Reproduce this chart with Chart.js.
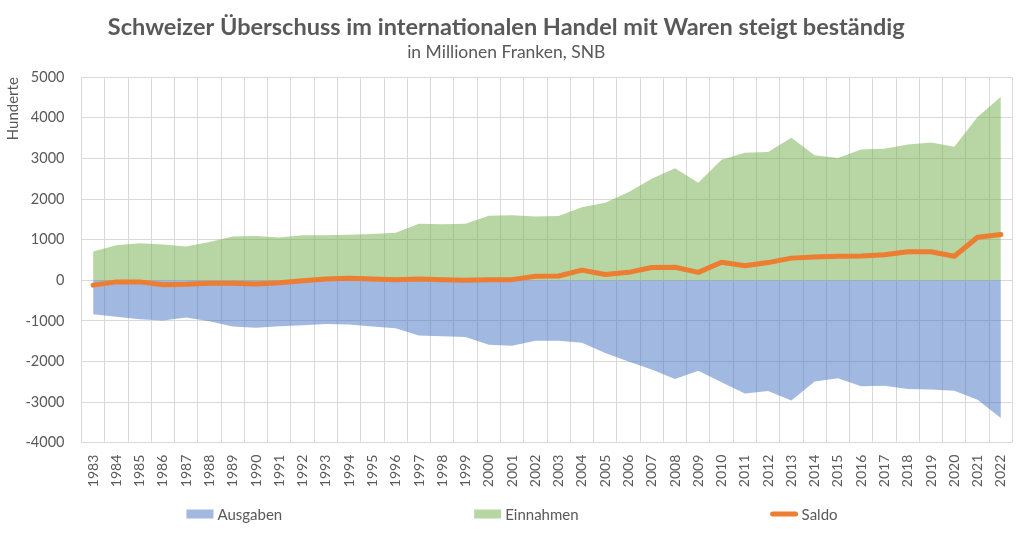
<!DOCTYPE html>
<html>
<head>
<meta charset="utf-8">
<script src="https://cdn.jsdelivr.net/npm/chart.js@4"></script>
<style>
  html, body { margin: 0; padding: 0; background: #ffffff; }
  #wrap { width: 1024px; height: 536px; }
</style>
</head>
<body>
<div id="wrap"><canvas id="c" width="1024" height="536"></canvas></div>
<script>
const years = ['1983','1984','1985','1986','1987','1988','1989','1990','1991','1992','1993','1994','1995','1996','1997','1998','1999','2000','2001','2002','2003','2004','2005','2006','2007','2008','2009','2010','2011','2012','2013','2014','2015','2016','2017','2018','2019','2020','2021','2022'];
const ausgaben = [-840,-900,-960,-990,-920,-1010,-1140,-1170,-1130,-1110,-1080,-1090,-1140,-1180,-1360,-1380,-1400,-1590,-1610,-1490,-1490,-1540,-1790,-2000,-2200,-2430,-2230,-2510,-2790,-2730,-2960,-2490,-2410,-2610,-2600,-2680,-2690,-2720,-2940,-3390];
const einnahmen = [710,860,910,880,830,940,1080,1090,1050,1110,1110,1120,1140,1170,1390,1380,1390,1590,1600,1570,1580,1800,1910,2170,2500,2760,2400,2970,3140,3160,3510,3080,3010,3220,3240,3340,3390,3290,4020,4520];
const saldo = [-120,-40,-40,-110,-100,-75,-75,-90,-60,-10,30,50,30,15,30,15,0,15,15,100,105,250,140,195,315,320,195,445,355,435,545,575,590,600,630,700,700,590,1060,1125];
const yTicks = [-4000,-3000,-2000,-1000,0,1000,2000,3000,4000,5000];

const titleText = 'Schweizer Überschuss im internationalen Handel mit Waren steigt beständig';
const subtitleText = 'in Millionen Franken, SNB';
const yAxisTitle = 'Hunderte';

const TEXT = '#595959';
const GRID = '#D9D9D9';
const FONT = 'Lato, "Open Sans", sans-serif';

const wideLegend = {
  id: 'wideLegend',
  afterDraw(chart, args, opts) {
    const ctx = chart.ctx;
    const ds = chart.data.datasets;
    ctx.save();
    ctx.font = opts.fontSize + 'px ' + FONT;
    ctx.textBaseline = 'middle';
    ctx.textAlign = 'left';
    const widths = ds.map(d => opts.boxWidth + opts.textGap + ctx.measureText(d.label).width);
    const total = widths.reduce((a, b) => a + b, 0) + opts.gap * (ds.length - 1);
    let x = chart.width / 2 - total / 2;
    const y = opts.y;
    ds.forEach((d, i) => {
      if (d.type === 'line' && !d.fill) {
        ctx.strokeStyle = d.borderColor;
        ctx.lineWidth = d.borderWidth;
        ctx.lineCap = 'round';
        ctx.beginPath();
        ctx.moveTo(x + 2, y);
        ctx.lineTo(x + opts.boxWidth - 2, y);
        ctx.stroke();
      } else {
        ctx.fillStyle = d.backgroundColor;
        ctx.fillRect(x, y - opts.boxHeight / 2, opts.boxWidth, opts.boxHeight);
      }
      ctx.fillStyle = TEXT;
      ctx.fillText(d.label, x + opts.boxWidth + opts.textGap, y + 1);
      x += widths[i] + opts.gap;
    });
    ctx.restore();
  }
};

new Chart(document.getElementById('c'), {
  type: 'line',
  data: {
    labels: years,
    datasets: [
      {
        label: 'Ausgaben',
        data: ausgaben,
        fill: 'origin',
        backgroundColor: 'rgba(68,114,196,0.5)',
        borderColor: 'rgba(0,0,0,0)',
        borderWidth: 0,
        pointRadius: 0,
        tension: 0,
        order: 2
      },
      {
        label: 'Einnahmen',
        data: einnahmen,
        fill: 'origin',
        backgroundColor: 'rgba(112,173,71,0.5)',
        borderColor: 'rgba(0,0,0,0)',
        borderWidth: 0,
        pointRadius: 0,
        tension: 0,
        order: 1
      },
      {
        type: 'line',
        label: 'Saldo',
        data: saldo,
        fill: false,
        borderColor: '#ED7D31',
        backgroundColor: '#ED7D31',
        borderWidth: 5,
        pointRadius: 0,
        tension: 0,
        borderCapStyle: 'round',
        borderJoinStyle: 'round',
        order: 0
      }
    ]
  },
  options: {
    responsive: false,
    animation: false,
    layout: { padding: { top: 0, right: 11.5, bottom: 0, left: 0 } },
    plugins: {
      legend: { display: false },
      tooltip: { enabled: false },
      title: {
        display: true,
        text: titleText,
        color: TEXT,
        font: { family: FONT, size: 23.5, weight: 'bold' },
        padding: { top: 13, bottom: 1 }
      },
      subtitle: {
        display: true,
        text: subtitleText,
        color: TEXT,
        font: { family: FONT, size: 17.5 },
        padding: { top: 0, bottom: 14 }
      },
      wideLegend: { y: 514, fontSize: 15, boxWidth: 27, boxHeight: 9, textGap: 4, gap: 192 }
    },
    scales: {
      x: {
        type: 'category',
        offset: true,
        grid: { offset: true, color: GRID, lineWidth: 1, drawTicks: false },
        border: { color: GRID },
        ticks: {
          color: TEXT,
          font: { family: FONT, size: 14 },
          maxRotation: 90,
          minRotation: 90,
          autoSkip: false,
          padding: 12
        },
        afterFit(scale) {
          scale.height = 93.3;
          scale.paddingLeft = 0;
          scale.paddingRight = 0;
        }
      },
      y: {
        min: -4000,
        max: 5000,
        afterBuildTicks(scale) { scale.ticks = yTicks.map(v => ({ value: v })); },
        grid: { color: GRID, lineWidth: 1, drawTicks: false },
        border: { color: GRID },
        ticks: {
          color: TEXT,
          font: { family: FONT, size: 14.5 },
          padding: 17,
          callback: (v) => String(v)
        },
        title: {
          display: true,
          text: yAxisTitle,
          align: 'end',
          color: TEXT,
          font: { family: FONT, size: 15 },
          padding: { top: 4, bottom: 4 }
        },
        afterFit(scale) { scale.width = 81.5; }
      }
    }
  },
  plugins: [wideLegend]
});
</script>
</body>
</html>
